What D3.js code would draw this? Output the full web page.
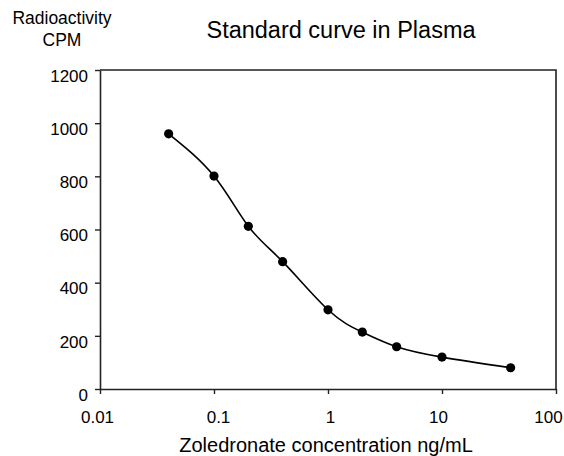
<!DOCTYPE html>
<html>
<head>
<meta charset="utf-8">
<script src="https://cdn.jsdelivr.net/npm/d3@7"></script>
<style>
  body { margin: 0; background: #fff; overflow: hidden; }
  text { font-family: "Liberation Sans", Arial, sans-serif; fill: #000; }
</style>
</head>
<body>
<div id="chart"></div>
<script>
// data
var concentrations = [0.04, 0.1, 0.2, 0.4, 1, 2, 4, 10, 40];
var cpm = [960, 801, 612, 479, 298, 214, 159, 120, 80];
var xTicks = [0.01, 0.1, 1, 10, 100];
var xTickLabels = ["0.01", "0.1", "1", "10", "100"];
var yTicks = [0, 200, 400, 600, 800, 1000, 1200];

var width = 564, height = 456;
var plot = { left: 100, right: 556, top: 70, bottom: 389 };
// small nudges of the x tick labels, as in the original
var xLabelShift = [-3, 4, 2, -4, -8];

var svg = d3.select("#chart")
    .append("svg")
    .attr("width", width)
    .attr("height", height);

var x = d3.scaleLog()
    .domain([0.01, 100])
    .range([plot.left, plot.right]);

var y = d3.scaleLinear()
    .domain([0, 1200])
    .range([plot.bottom, plot.top]);

// frame: top and right edges
svg.append("path")
    .attr("d", "M" + plot.left + "," + plot.top + "H" + plot.right + "V" + plot.bottom)
    .attr("fill", "none")
    .attr("stroke", "#222")
    .attr("stroke-width", 1.6);

// bottom axis
var xAxis = svg.append("g")
    .attr("transform", "translate(0," + plot.bottom + ")")
    .call(d3.axisBottom(x).tickValues(xTicks).tickSize(5).tickSizeOuter(0)
        .tickFormat(function(d, i) { return xTickLabels[i]; }));
xAxis.select(".domain").attr("stroke", "#222").attr("stroke-width", 1.6);
xAxis.selectAll(".tick line").attr("stroke", "#222").attr("stroke-width", 1.4);
xAxis.selectAll(".tick text")
    .attr("y", 22)
    .attr("dy", "0.71em")
    .attr("dx", function(d, i) { return xLabelShift[i]; })
    .style("font-size", "17px")
    .style("font-family", "Liberation Sans, Arial, sans-serif");

// left axis
var yAxis = svg.append("g")
    .attr("transform", "translate(" + plot.left + ",0)")
    .call(d3.axisLeft(y).tickValues(yTicks).tickSize(5).tickSizeOuter(0)
        .tickFormat(d3.format("d")));
yAxis.select(".domain").attr("stroke", "#222").attr("stroke-width", 1.6);
yAxis.selectAll(".tick line").attr("stroke", "#222").attr("stroke-width", 1.4);
yAxis.selectAll(".tick text")
    .attr("x", -12)
    .attr("dy", "0.66em")
    .style("font-size", "17px")
    .style("font-family", "Liberation Sans, Arial, sans-serif");

// smooth standard curve through the points
var pts = concentrations.map(function(c, i) { return [c, cpm[i]]; });

var line = d3.line()
    .x(function(d) { return x(d[0]); })
    .y(function(d) { return y(d[1]); })
    .curve(d3.curveNatural);

svg.append("path")
    .datum(pts)
    .attr("d", line)
    .attr("fill", "none")
    .attr("stroke", "#000")
    .attr("stroke-width", 1.6);

svg.selectAll("circle.pt")
    .data(pts)
    .enter()
    .append("circle")
    .attr("class", "pt")
    .attr("cx", function(d) { return x(d[0]); })
    .attr("cy", function(d) { return y(d[1]); })
    .attr("r", 4.6)
    .attr("fill", "#000");

// titles
svg.append("text")
    .attr("x", 341)
    .attr("y", 38)
    .attr("text-anchor", "middle")
    .style("font-size", "23.5px")
    .text("Standard curve in Plasma");

svg.append("text")
    .attr("x", 62)
    .attr("y", 24)
    .attr("text-anchor", "middle")
    .style("font-size", "17.5px")
    .text("Radioactivity");

svg.append("text")
    .attr("x", 62)
    .attr("y", 46)
    .attr("text-anchor", "middle")
    .style("font-size", "17.5px")
    .text("CPM");

svg.append("text")
    .attr("x", 326)
    .attr("y", 452)
    .attr("text-anchor", "middle")
    .style("font-size", "20px")
    .text("Zoledronate concentration ng/mL");
</script>
</body>
</html>
